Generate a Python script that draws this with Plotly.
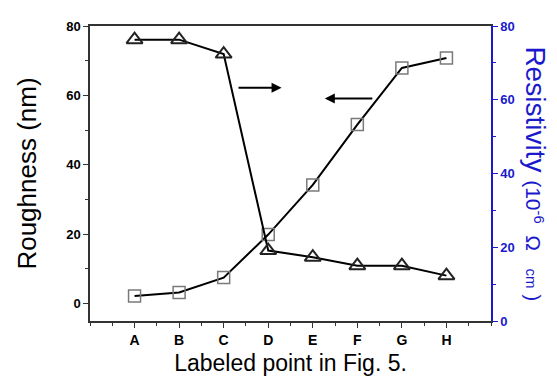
import plotly.graph_objects as go

labels = ["A", "B", "C", "D", "E", "F", "G", "H"]
roughness = [2.2, 3.2, 7.5, 19.9, 34.2, 51.6, 67.9, 70.8]
resistivity = [76.3, 76.3, 72.4, 19.1, 17.3, 15.0, 15.0, 12.3]
xpos = list(range(len(labels)))

FONT = "Liberation Sans, Arial, sans-serif"
BLUE = "#1a1acc"

fig = go.Figure()
fig.add_trace(go.Scatter(
    x=xpos, y=roughness, mode="lines+markers",
    line=dict(color="black", width=2),
    marker=dict(symbol="square-open", size=12, color="#7a7a7a", line=dict(width=1.5)),
    yaxis="y", showlegend=False))
fig.add_trace(go.Scatter(
    x=xpos, y=resistivity, mode="lines+markers",
    line=dict(color="black", width=2),
    marker=dict(symbol="triangle-up-open", size=14, color="#222222", line=dict(width=2)),
    yaxis="y2", showlegend=False))

fig.update_layout(
    width=557, height=378,
    margin=dict(l=82, r=74, t=18, b=65),
    plot_bgcolor="white", paper_bgcolor="white",
    font=dict(family=FONT, color="black"),
    xaxis=dict(
        range=[-1, 8], tickmode="array", tickvals=xpos, ticktext=labels,
        showline=True, linecolor="#333", linewidth=1.5, mirror=True,
        ticks="outside", ticklen=5, tickwidth=1.2, tickcolor="#333",
        minor=dict(dtick=0.5, tick0=-1, ticks="outside", ticklen=3, tickcolor="#333"),
        showgrid=False, zeroline=False,
        tickfont=dict(size=14, family=FONT, weight="bold"),
        title=dict(text="Labeled point in Fig. 5.", font=dict(size=23), standoff=8),
    ),
    yaxis=dict(
        range=[-5, 80], tickvals=[0, 20, 40, 60, 80],
        showline=True, linecolor="#333", linewidth=1.5,
        ticks="outside", ticklen=5, tickwidth=1.2, tickcolor="#333",
        minor=dict(tickvals=[10, 30, 50, 70], ticks="outside", ticklen=3, tickcolor="#333"),
        showgrid=False, zeroline=False,
        tickfont=dict(size=13, family=FONT, weight="bold"),
        title=dict(text="Roughness (nm)", font=dict(size=26), standoff=22),
    ),
    yaxis2=dict(
        overlaying="y", side="right", range=[0, 80], tickvals=[0, 20, 40, 60, 80],
        showline=True, linecolor=BLUE, linewidth=1.5,
        ticks="outside", ticklen=5, tickwidth=1.2, tickcolor=BLUE,
        minor=dict(tickvals=[10, 30, 50, 70], ticks="outside", ticklen=3, tickcolor=BLUE),
        showgrid=False, zeroline=False,
        tickfont=dict(size=13, family=FONT, weight="bold", color=BLUE),
    ),
)

fig.add_annotation(
    text="Resistivity <span style='font-size:21px'>(10<sup>-6</sup>  Ω   <span style='font-size:15px'>cm</span> )</span>",
    xref="paper", yref="paper", x=1.11, y=0.5, textangle=90, showarrow=False,
    font=dict(size=28, color=BLUE, family=FONT), xanchor="center", yanchor="middle")

fig.add_annotation(x=3.3, y=62.2, ax=2.3, ay=62.2, xref="x", yref="y", axref="x", ayref="y",
                   text="", showarrow=True, arrowhead=2, arrowsize=1, arrowwidth=2, arrowcolor="black")
fig.add_annotation(x=4.27, y=59.1, ax=5.37, ay=59.1, xref="x", yref="y", axref="x", ayref="y",
                   text="", showarrow=True, arrowhead=2, arrowsize=1, arrowwidth=2, arrowcolor="black")

fig.write_html("out.html")
